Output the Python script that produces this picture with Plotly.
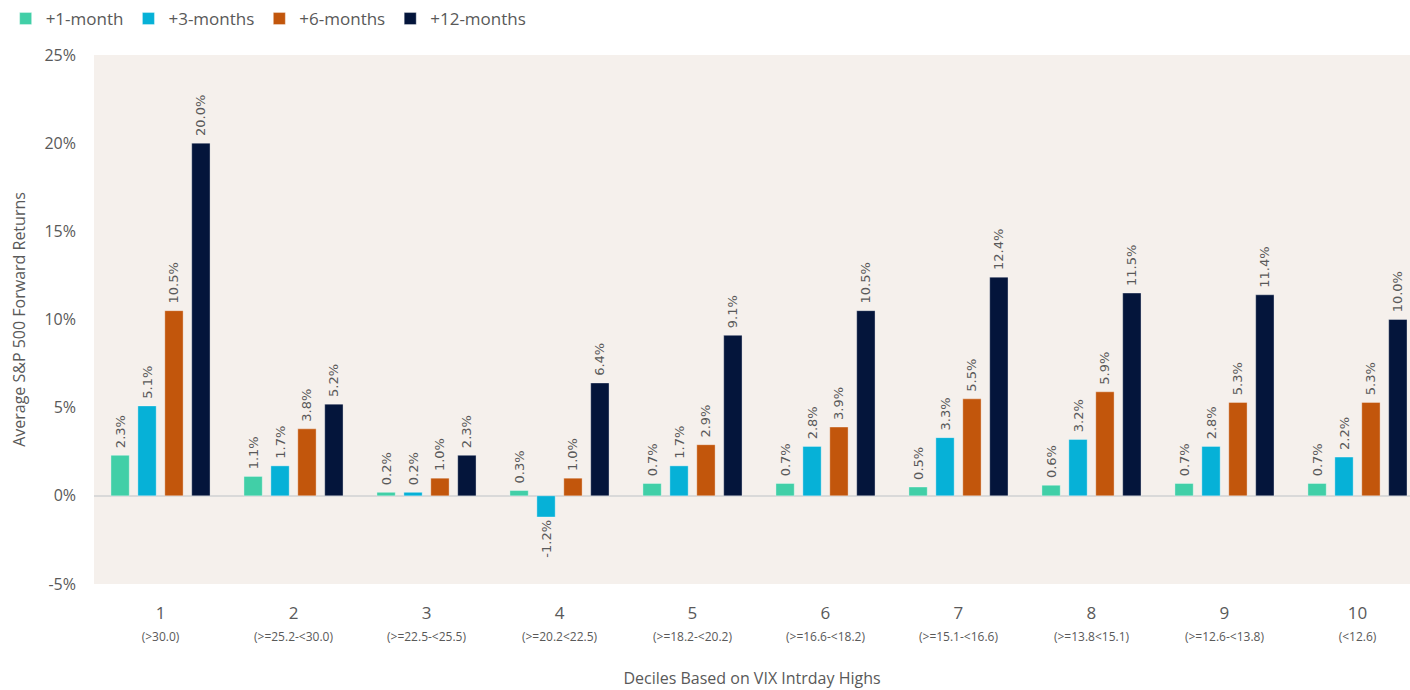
import plotly.graph_objects as go

deciles = ["1", "2", "3", "4", "5", "6", "7", "8", "9", "10"]
ranges = ["(>30.0)", "(>=25.2-<30.0)", "(>=22.5-<25.5)", "(>=20.2<22.5)", "(>=18.2-<20.2)",
          "(>=16.6-<18.2)", "(>=15.1-<16.6)", "(>=13.8<15.1)", "(>=12.6-<13.8)", "(<12.6)"]
m1 = [2.3, 1.1, 0.2, 0.3, 0.7, 0.7, 0.5, 0.6, 0.7, 0.7]
m3 = [5.1, 1.7, 0.2, -1.2, 1.7, 2.8, 3.3, 3.2, 2.8, 2.2]
m6 = [10.5, 3.8, 1.0, 1.0, 2.9, 3.9, 5.5, 5.9, 5.3, 5.3]
m12 = [20.0, 5.2, 2.3, 6.4, 9.1, 10.5, 12.4, 11.5, 11.4, 10.0]
series = [("+1-month", m1, "#41CFA7"), ("+3-months", m3, "#06B1D7"),
          ("+6-months", m6, "#C2560C"), ("+12-months", m12, "#04153B")]
yticks = [-5, 0, 5, 10, 15, 20, 25]

ticktext = [f"{d}<br><span style='font-size:12px'>{r}</span>" for d, r in zip(deciles, ranges)]

fig = go.Figure()
for name, vals, col in series:
    fig.add_trace(go.Bar(
        x=deciles, y=vals, name=name,
        marker=dict(color=col, line=dict(color="rgba(255,255,255,0.35)", width=1)),
        text=["\u00a0" + f"{v:.1f}%" for v in vals], textposition="outside", textangle=-90,
        textfont=dict(family="DejaVu Sans", size=13, color="#595959"),
        constraintext="none", cliponaxis=False,
    ))

fig.update_layout(
    width=1410, height=690,
    margin=dict(l=94, r=0, t=55, b=106, autoexpand=False),
    paper_bgcolor="white", plot_bgcolor="#F5F0EC",
    barmode="group", bargap=0.19, bargroupgap=0.32,
    font=dict(family="Open Sans", color="#595959"),
    legend=dict(orientation="h", xref="container", yref="container", x=0.004, y=1 - 19 / 690,
                xanchor="left", yanchor="middle", font=dict(size=17, color="#595959"),
                itemwidth=30, bgcolor="rgba(0,0,0,0)"),
)
fig.update_xaxes(tickmode="array", tickvals=deciles, ticktext=ticktext, automargin=False,
                 tickfont=dict(size=17, color="#595959"), showgrid=False, ticks="",
                 ticklabelstandoff=17,
                 title=dict(text="Deciles Based on VIX Intrday Highs", font=dict(size=16, color="#595959"), standoff=28),
                 range=[-0.5, 9.395])
fig.update_yaxes(range=[-5, 25], tickvals=yticks, ticktext=[f"{v}%" for v in yticks], automargin=False,
                 tickfont=dict(size=16, color="#595959"), showgrid=False, ticklabelstandoff=17,
                 zeroline=True, zerolinecolor="#D9D9D9", zerolinewidth=1.5,
                 title=dict(text="Average S&P 500 Forward Returns", font=dict(size=16, color="#595959"), standoff=14))

fig.write_html("out.html", config={"displayModeBar": False},
               post_script="document.body.style.margin='0';document.body.style.overflow='hidden';")
